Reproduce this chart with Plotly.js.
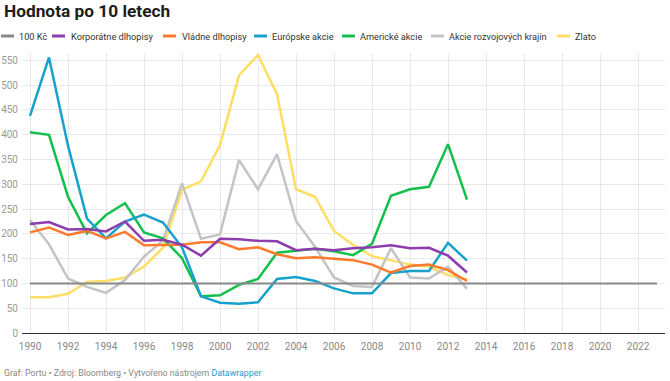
<!DOCTYPE html>
<html>
<head>
<meta charset="utf-8">
<script src="https://cdn.plot.ly/plotly-3.0.1.min.js"></script>
<style>
html,body{margin:0;padding:0;background:#fff;}
#chart{width:670px;height:381px;}
</style>
</head>
<body>
<div id="chart"></div>
<script>
const years = [1990,1991,1992,1993,1994,1995,1996,1997,1998,1999,2000,2001,2002,2003,2004,2005,2006,2007,2008,2009,2010,2011,2012,2013];
const kc100X = [1990, 2023];
const kc100Y = [100, 100];
const korporatne = [220,224,209,210,205,225,186,188,178,156,190,189,186,185,167,170,167,171,173,177,171,172,156,122];
const vladne = [203,213,198,206,191,204,177,177,178,183,183,169,173,159,151,153,150,147,138,122,135,138,127,105];
const europske = [438,556,378,231,191,225,239,223,173,74,61,59,62,109,113,105,90,80,80,121,125,125,182,146];
const americke = [405,400,275,201,238,262,203,191,151,74,76,97,109,162,166,170,165,157,180,277,290,295,381,269];
const rozvojove = [228,179,110,93,81,107,154,187,302,190,199,349,290,361,226,174,112,95,93,171,112,110,134,89];
const zlato = [72,72,79,103,105,112,134,172,289,306,379,520,561,482,290,275,206,178,155,147,138,134,117,108];

const seriesNames = ["100 Kč","Korporátne dlhopisy","Vládne dlhopisy","Európske akcie","Americké akcie","Akcie rozvojových krajín","Zlato"];
const seriesColors = ["#888888","#8d3dad","#fe7a2e","#18a1cd","#14c04c","#c4c4c4","#ffde66"];
const xTicks = [1990,1992,1994,1996,1998,2000,2002,2004,2006,2008,2010,2012,2014,2016,2018,2020,2022];
const yTicks = [0,50,100,150,200,250,300,350,400,450,500,550];

const FONT = "Roboto, 'Open Sans', sans-serif";
const L = 22, R = 5, T = 53, B = 48, W = 670, H = 381;
const PW = W - L - R, PH = H - T - B;
const px = v => (v - L) / PW;
const py = v => (H - B - v) / PH;

function line(name, x, y, color, width) {
  return {x: x, y: y, name: name, type: 'scatter', mode: 'lines',
    line: {color: color, width: width}, hoverinfo: 'skip', showlegend: false};
}
const traces = [
  line(seriesNames[6], years, zlato, seriesColors[6], 2.5),
  line(seriesNames[5], years, rozvojove, seriesColors[5], 2.5),
  line(seriesNames[4], years, americke, seriesColors[4], 2.5),
  line(seriesNames[3], years, europske, seriesColors[3], 2.5),
  line(seriesNames[2], years, vladne, seriesColors[2], 2.5),
  line(seriesNames[1], years, korporatne, seriesColors[1], 2.5),
  line(seriesNames[0], kc100X, kc100Y, seriesColors[0], 2)
];

// manual legend (Datawrapper style)
const symStart = [1, 52, 163, 254, 342, 431, 557];
const textStart = [17, 69, 180, 270, 358, 447, 573];
const legendY = 36;
const shapes = [];
const annotations = [];
for (let i = 0; i < seriesNames.length; i++) {
  shapes.push({type: 'line', xref: 'paper', yref: 'paper',
    x0: px(symStart[i]), x1: px(symStart[i] + 13), y0: py(legendY), y1: py(legendY),
    line: {color: seriesColors[i], width: 3}});
  annotations.push({xref: 'paper', yref: 'paper', x: px(textStart[i]), y: py(legendY),
    xanchor: 'left', yanchor: 'middle', showarrow: false, text: seriesNames[i],
    font: {family: FONT, size: 9.2, color: '#333333'}});
}
annotations.push({xref: 'paper', yref: 'paper', x: px(2), y: py(10.5),
  xanchor: 'left', yanchor: 'middle', showarrow: false,
  text: '<b>Hodnota po 10 letech</b>',
  font: {family: FONT, size: 17.3, color: '#1d1d1d'}});
annotations.push({xref: 'paper', yref: 'paper', x: px(2), y: py(373),
  xanchor: 'left', yanchor: 'middle', showarrow: false,
  text: 'Graf: Portu • Zdroj: Bloomberg • Vytvořeno nástrojem <span style="color:#1d9ad0">Datawrapper</span>',
  font: {family: FONT, size: 8.8, color: '#888888'}});

const layout = {
  width: W, height: H,
  margin: {l: L, r: R, t: T, b: B, pad: 0},
  paper_bgcolor: '#ffffff', plot_bgcolor: '#ffffff',
  showlegend: false,
  hovermode: false,
  xaxis: {
    range: [1990 - 8/19, 1990 - 8/19 + PW/19],
    tickvals: xTicks, ticktext: xTicks.map(String),
    showgrid: true, gridcolor: '#e8e8e8', gridwidth: 1,
    zeroline: false, showline: true, linecolor: '#333333', linewidth: 1.3,
    ticks: '', ticklabelstandoff: 4,
    tickfont: {family: FONT, size: 10, color: '#888888'},
    fixedrange: true
  },
  yaxis: {
    range: [0, 565],
    tickvals: yTicks, ticktext: yTicks.map(String),
    showgrid: true, gridcolor: '#e8e8e8', gridwidth: 1,
    zeroline: false, showline: false,
    ticks: '', ticklabelstandoff: 3,
    tickfont: {family: FONT, size: 10, color: '#999999'},
    fixedrange: true
  },
  shapes: shapes,
  annotations: annotations
};

Plotly.newPlot('chart', traces, layout, {displayModeBar: false, staticPlot: true});
</script>
</body>
</html>
